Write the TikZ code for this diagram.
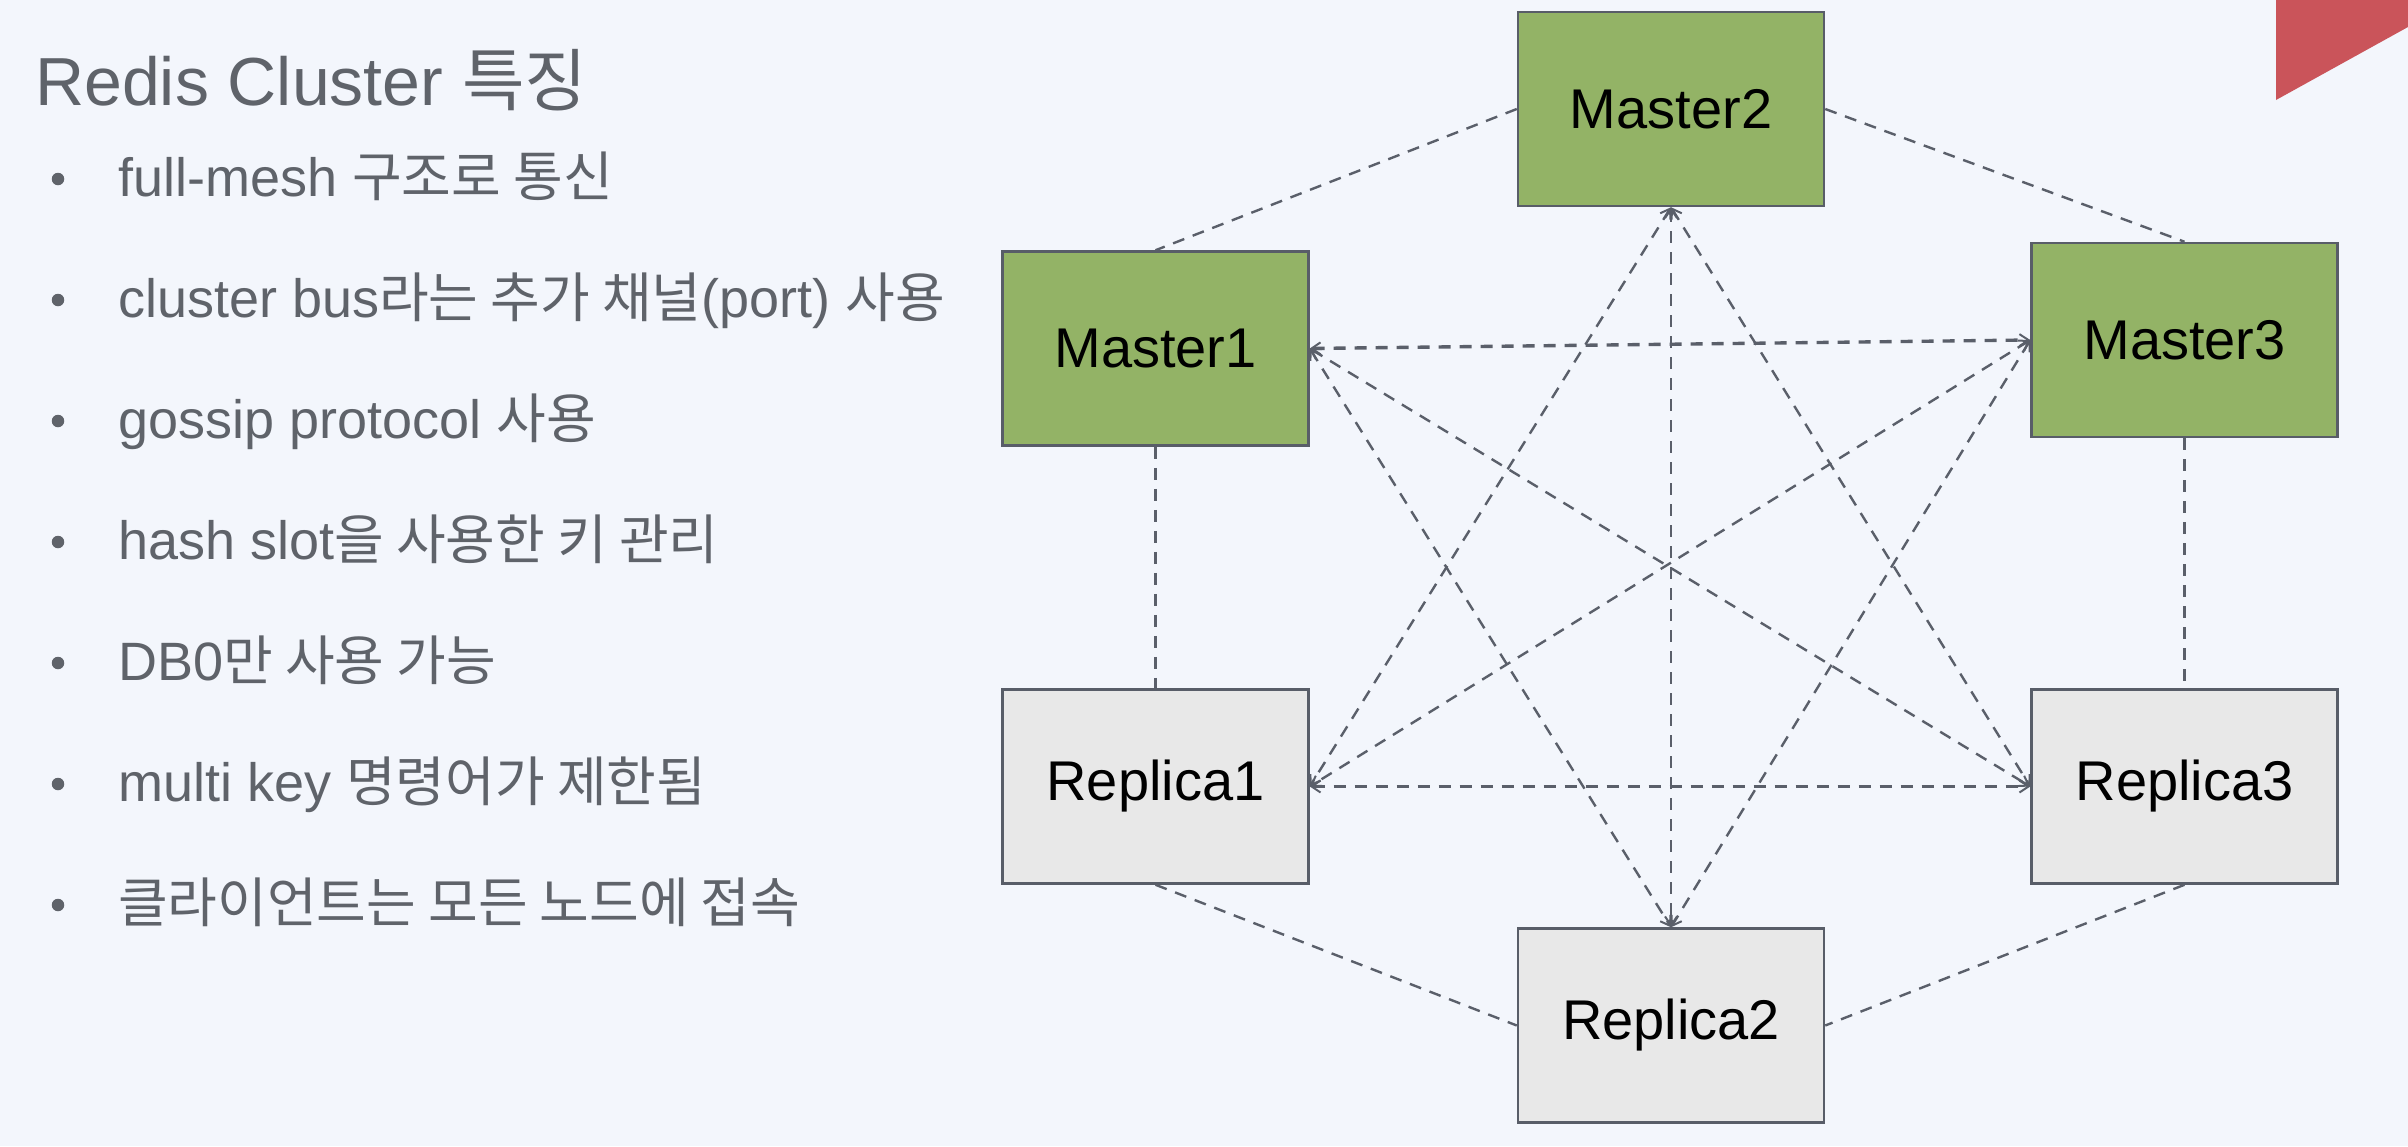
\documentclass[tikz,border=0pt]{standalone}
\usepackage{fontspec}
\setmainfont{Liberation Sans}
\newfontfamily\kr{Noto Sans CJK KR}
\usetikzlibrary{arrows.meta}
\definecolor{bgc}{RGB}{243,246,252}
\definecolor{txtc}{RGB}{95,99,106}
\definecolor{linec}{RGB}{90,95,106}
\definecolor{borderc}{RGB}{88,93,104}
\definecolor{masterc}{RGB}{147,179,102}
\definecolor{replicac}{RGB}{232,232,232}
\definecolor{redc}{RGB}{202,84,90}
\tikzset{
  box/.style={draw=borderc, line width=2.5pt, minimum width=306pt, minimum height=194pt,
    inner sep=0pt, font=\fontsize{56}{60}\selectfont, text=black},
  masterbox/.style={box, fill=masterc},
  replicabox/.style={box, fill=replicac},
  link/.style={draw=linec, line width=2.4pt, dash pattern=on 12pt off 9pt},
  meshlink/.style={link, {Straight Barb[length=9pt,width=12pt,line width=2pt]}-{Straight Barb[length=9pt,width=12pt,line width=2pt]}},
  thicklink/.style={meshlink, line width=3.4pt},
  itemtext/.style={anchor=base west, inner sep=0pt, text=txtc, font=\fontsize{54}{60}\selectfont},
  bulletdot/.style={circle, fill=txtc, minimum size=12.5pt, inner sep=0pt},
}
\begin{document}
\begin{tikzpicture}[x=1pt,y=-1pt]
\fill[bgc] (0,0) rectangle (2408,1146);
\useasboundingbox (0,0) rectangle (2408,1146);
\fill[redc] (2276,0) -- (2408,0) -- (2408,27) -- (2276,100) -- cycle;

% title and bullets
\node[anchor=base west, inner sep=0pt, text=txtc, font=\fontsize{68}{72}\selectfont] (title) at (35,105) {Redis Cluster {\kr 특징}};
\node[bulletdot] (b1) at (58,179) {};
\node[bulletdot] (b2) at (58,300) {};
\node[bulletdot] (b3) at (58,421) {};
\node[bulletdot] (b4) at (58,542) {};
\node[bulletdot] (b5) at (58,663) {};
\node[bulletdot] (b6) at (58,784) {};
\node[bulletdot] (b7) at (58,905) {};
\node[itemtext] (t1) at (118,196) {full-mesh {\kr 구조로 통신}};
\node[itemtext] (t2) at (118,317) {cluster bus{\kr 라는 추가 채널}(port) {\kr 사용}};
\node[itemtext] (t3) at (118,438) {gossip protocol {\kr 사용}};
\node[itemtext] (t4) at (118,559) {hash slot{\kr 을 사용한 키 관리}};
\node[itemtext] (t5) at (118,680) {DB0{\kr 만 사용 가능}};
\node[itemtext] (t6) at (118,801) {multi key {\kr 명령어가 제한됨}};
\node[itemtext] (t7) at (118,922) {{\kr 클라이언트는 모든 노드에 접속}};

% nodes
\node[masterbox] (m2) at (1671,109) {Master2};
\node[masterbox] (m1) at (1155.5,348.5) {Master1};
\node[masterbox] (m3) at (2184.5,340) {Master3};
\node[replicabox] (r1) at (1155.5,786.5) {Replica1};
\node[replicabox] (r3) at (2184.5,786.5) {Replica3};
\node[replicabox] (r2) at (1671,1025.5) {Replica2};

% outer ring
\draw[link] (m2.west) -- (m1.north);
\draw[link] (m2.east) -- (m3.north);
\draw[link] (m1.south) -- (r1.north);
\draw[link] (m3.south) -- (r3.north);
\draw[link] (r1.south) -- (r2.west);
\draw[link] (r3.south) -- (r2.east);
% mesh
\draw[thicklink] (m1.east) -- (m3.west);
\draw[thicklink] (r1.east) -- (r3.west);
\draw[meshlink] (m1.east) -- (r2.north);
\draw[meshlink] (m1.east) -- (r3.west);
\draw[meshlink] (m3.west) -- (r1.east);
\draw[meshlink] (m3.west) -- (r2.north);
\draw[meshlink] (m2.south) -- (r1.east);
\draw[meshlink] (m2.south) -- (r2.north);
\draw[meshlink] (m2.south) -- (r3.west);
\end{tikzpicture}
\end{document}
